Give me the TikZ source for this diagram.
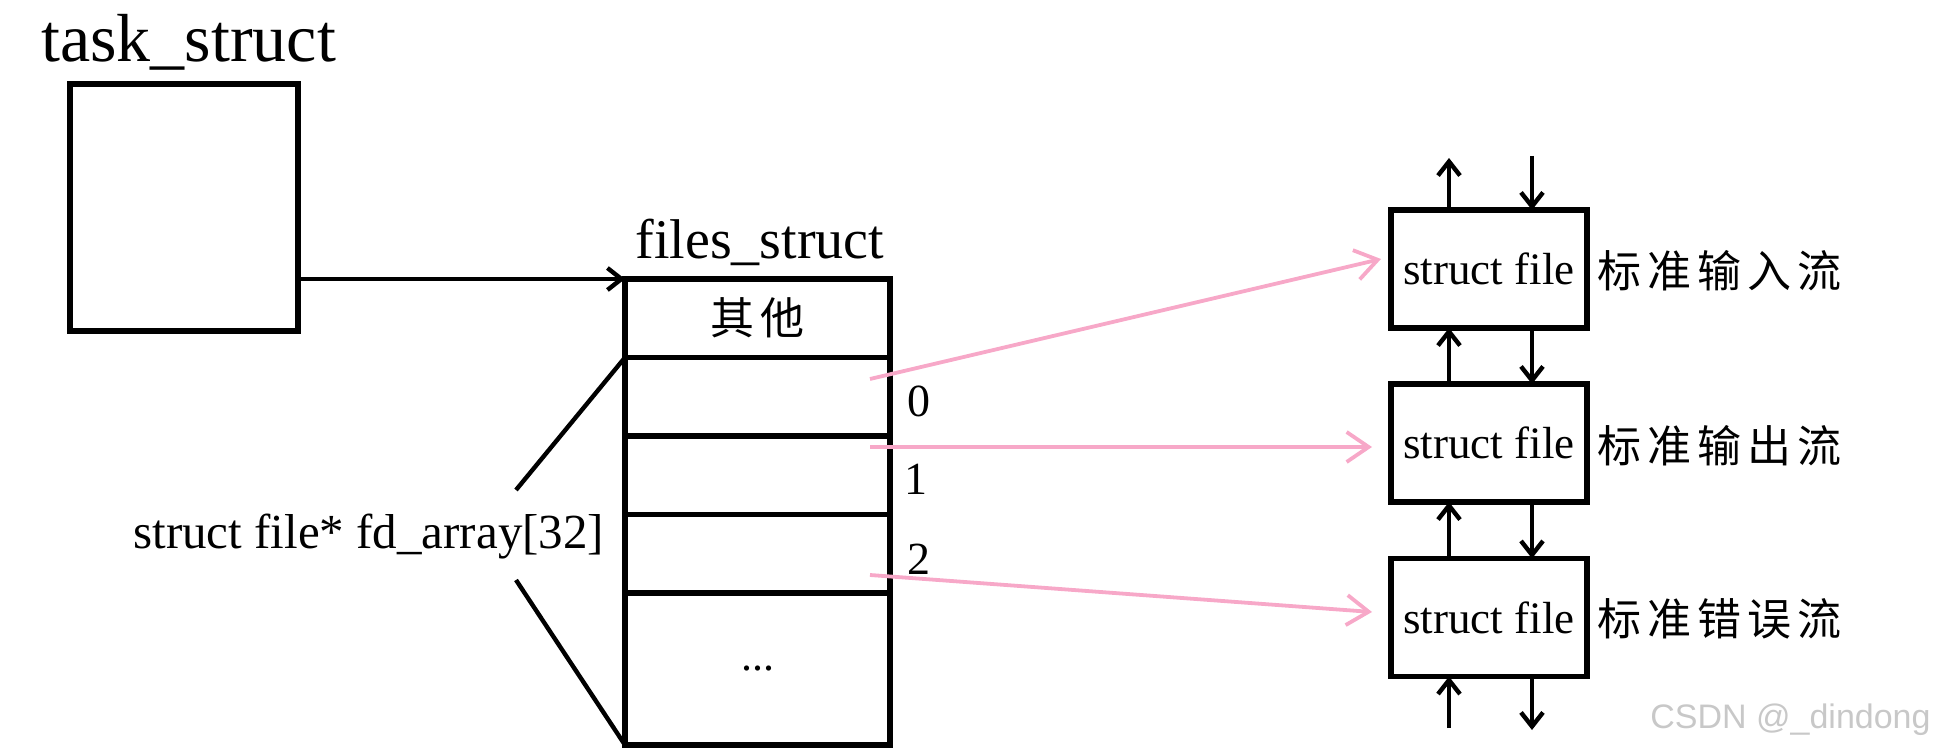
\documentclass[tikz,border=0pt]{standalone}
\usepackage{fontspec}
\setmainfont{Liberation Serif}
\newfontfamily\cjk{Noto Sans CJK SC}
\newfontfamily\wm{Liberation Sans}
\usetikzlibrary{arrows.meta,calc}
\definecolor{pinkln}{RGB}{247,168,200}
\definecolor{wmgray}{RGB}{200,200,200}
\newcommand\cg{\hspace{3pt}}
\begin{document}
\begin{tikzpicture}[x=0.5pt,y=-0.5pt,
  box/.style={draw,line width=2.6pt,inner sep=0pt,outer sep=0pt},
  cell/.style={box,minimum width=132.5pt,minimum height=39.25pt},
  fbox/.style={box,minimum width=98pt,minimum height=59pt,font=\fontsize{22.5}{26}\selectfont},
  blk/.style={line width=2.2pt,-{Straight Barb[length=7pt,width=11pt]}},
  pk/.style={draw=pinkln,line width=1.9pt,-{Straight Barb[length=11pt,width=15pt]}},
  lbl/.style={inner sep=0pt,anchor=base west},
  cn/.style={inner sep=0pt,anchor=west,font=\cjk\fontsize{22}{26}\selectfont},
  idx/.style={inner sep=0pt,font=\fontsize{23}{26}\selectfont}]
\useasboundingbox (0,0) rectangle (1934,748);

% task_struct
\node[lbl,font=\fontsize{34}{40}\selectfont] (tlabel) at (41,62) {task\_struct};
\node[box,minimum width=114pt,minimum height=123.5pt] (task) at (184,207.5) {};

% files_struct
\node[lbl,font=\fontsize{28}{32}\selectfont] (flabel) at (635,259) {files\_struct};
\node[cell] (other) at (757.5,318.25) {\cjk\fontsize{22}{26}\selectfont 其\cg 他};
\node[cell] (r0) at (757.5,396.75) {};
\node[cell] (r1) at (757.5,475.25) {};
\node[cell] (r2) at (757.5,553.75) {};
\node[box,minimum width=132.5pt,minimum height=76pt,font=\fontsize{22}{26}\selectfont] (rest) at (757.5,669) {...};

\draw[blk] (task.east |- other.north) -- (other.north west);

% index labels
\node[idx] (i0) at (919,401) {0};
\node[idx] (i1) at (916,479) {1};
\node[idx] (i2) at (919,559) {2};

% fd_array label and bracket
\node[lbl,font=\fontsize{24.5}{28}\selectfont] (fd) at (133,549) {struct file* fd\_array[32]};
\coordinate (k1) at (516,490);
\coordinate (k2) at (516,580);
\draw[line width=2.2pt] (r0.north west) -- (k1);
\draw[line width=2.2pt] (k2) -- (rest.south west);

% struct file boxes
\node[fbox] (f1) at (1489,269) {struct file};
\node[fbox] (f2) at (1489,443) {struct file};
\node[fbox] (f3) at (1489,617.5) {struct file};
\node[cn] (c1) at (1597,271) {标\cg 准\cg 输\cg 入\cg 流};
\node[cn] (c2) at (1597,446) {标\cg 准\cg 输\cg 出\cg 流};
\node[cn] (c3) at (1597,619) {标\cg 准\cg 错\cg 误\cg 流};

% vertical arrows
\coordinate (t1) at (1449,158);
\coordinate (t2) at (1532,156);
\coordinate (b1) at (1449,728);
\coordinate (b2) at (1532,730);
\draw[blk] (f1.north -| t1) -- (t1);
\draw[blk] (t2) -- (f1.north -| t2);
\draw[blk] (f2.north -| t1) -- (f1.south -| t1);
\draw[blk] (f1.south -| t2) -- (f2.north -| t2);
\draw[blk] (f3.north -| t1) -- (f2.south -| t1);
\draw[blk] (f2.south -| t2) -- (f3.north -| t2);
\draw[blk] (b1) -- (f3.south -| b1);
\draw[blk] (f3.south -| b2) -- (b2);

% pink pointers
\coordinate (s0) at (870,379);
\coordinate (s1) at (870,447);
\coordinate (s2) at (870,575);
\draw[pk] (s0) -- ([xshift=-5pt,yshift=5pt]f1.west);
\draw[pk] (s1) -- ([xshift=-9.5pt,yshift=-2pt]f2.west);
\draw[pk] (s2) -- ([xshift=-9.5pt,yshift=2.75pt]f3.west);

% watermark
\node[lbl,font=\wm\fontsize{17}{20}\selectfont,text=wmgray] (wmk) at (1650,728) {CSDN @\_dindong};
\end{tikzpicture}
\end{document}
